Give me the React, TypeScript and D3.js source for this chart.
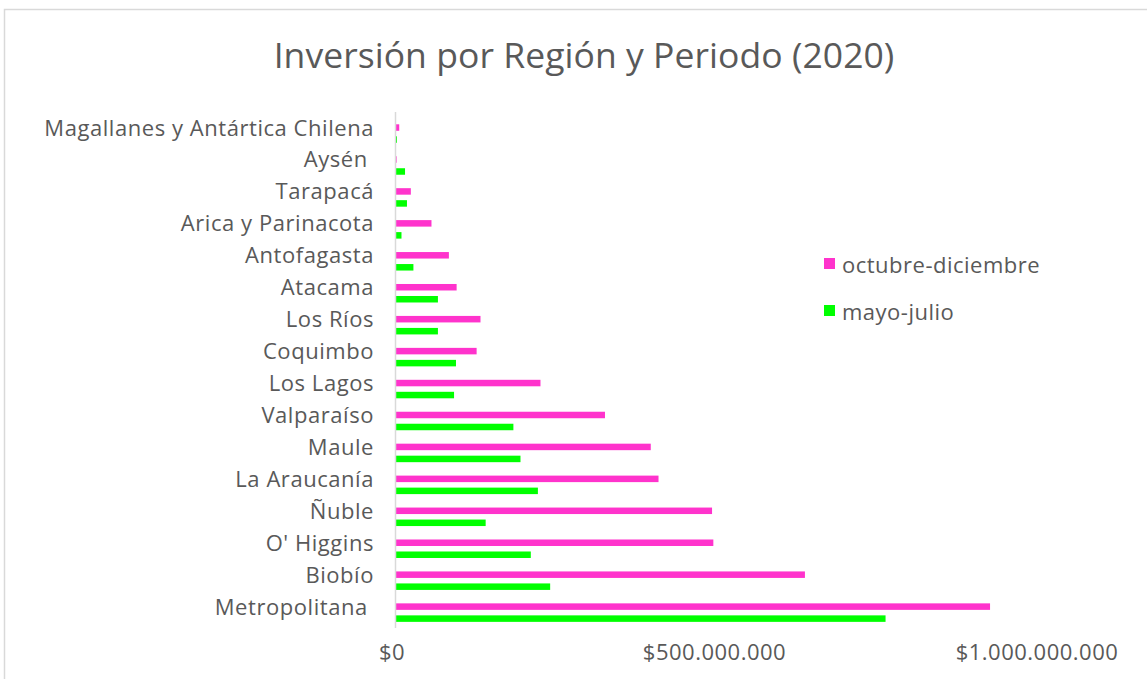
import React from "react";
import * as d3 from "d3";

const categories = [
  "Magallanes y Antártica Chilena",
  "Aysén ",
  "Tarapacá",
  "Arica y Parinacota",
  "Antofagasta",
  "Atacama",
  "Los Ríos",
  "Coquimbo",
  "Los Lagos",
  "Valparaíso",
  "Maule",
  "La Araucanía",
  "Ñuble",
  "O' Higgins",
  "Biobío",
  "Metropolitana ",
];

// values in pesos
const octDic = [5e6, 1e6, 23e6, 55e6, 82e6, 94e6, 131e6, 125e6, 224e6, 324e6, 395e6, 407e6, 490e6, 492e6, 634e6, 921e6];
const mayJul = [1.5e6, 14e6, 17e6, 8.5e6, 27e6, 65e6, 65e6, 93e6, 90e6, 182e6, 193e6, 220e6, 139e6, 209e6, 239e6, 759e6];

const seriesNames = ["octubre-diciembre", "mayo-julio"];
const seriesColors = ["#FF33CC", "#00FF00"];
const xTicks = [0, 500000000, 1000000000];

const FONT = "'Open Sans', 'Noto Sans', sans-serif";
const TEXT = "#595959";

export default function App() {
  const W = 1147;
  const H = 679;
  const x = d3.scaleLinear().domain([0, 1e9]).range([396, 1041]);
  const y = d3.scaleBand().domain(categories).range([117, 628]).padding(0);
  const fmt = (v: number) =>
    "$" + d3.format(",")(v).replace(/,/g, ".");
  const barH = 6.5;

  return (
    <div style={{ position: "absolute", left: 0, top: 0 }}>
      <svg width={W} height={H} style={{ display: "block", fontFamily: FONT }}>
        <rect x={0} y={0} width={W} height={H} fill="#ffffff" />
        <rect x={4.5} y={9.5} width={1300} height={800} fill="none" stroke="#d9d9d9" strokeWidth={1.5} />
        <text x={584} y={68} textAnchor="middle" fontSize={35.5} letterSpacing={0.05} fill={TEXT}>
          Inversión por Región y Periodo (2020)
        </text>
        {categories.map((c, i) => {
          const b = y(c)!;
          return (
            <g key={c}>
              <rect x={x(0)} y={b + 7.3} width={x(octDic[i]) - x(0)} height={barH} fill={seriesColors[0]} />
              <rect x={x(0)} y={b + 19.3} width={x(mayJul[i]) - x(0)} height={barH} fill={seriesColors[1]} />
              <text
                x={374}
                y={b + 9.5}
                textAnchor="end"
                dominantBaseline="central"
                fontSize={22}
                letterSpacing={0.55}
                fill={TEXT}
                style={{ whiteSpace: "pre" }}
              >
                {c}
              </text>
            </g>
          );
        })}
        <line x1={x(0) - 0.5} x2={x(0) - 0.5} y1={112} y2={628} stroke="#d9d9d9" strokeWidth={1.5} />
        {xTicks.map((t) => (
          <text key={t} x={x(t) - 4} y={660} textAnchor="middle" fontSize={22} letterSpacing={0.5} fill={TEXT}>
            {fmt(t)}
          </text>
        ))}
        {seriesNames.map((s, i) => (
          <g key={s}>
            <rect x={824} y={258 + i * 47} width={11} height={11} fill={seriesColors[i]} />
            <text x={842} y={264 + i * 47} dominantBaseline="central" fontSize={22} letterSpacing={0.5} fill={TEXT}>
              {s}
            </text>
          </g>
        ))}
      </svg>
    </div>
  );
}
